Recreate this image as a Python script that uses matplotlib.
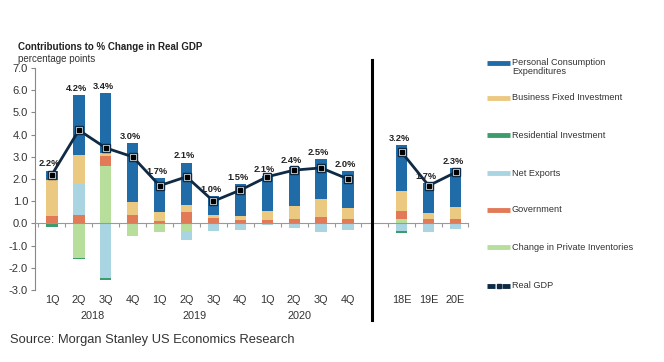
import matplotlib
matplotlib.use("Agg")
import matplotlib.pyplot as plt
import matplotlib.transforms as mtransforms
from matplotlib.lines import Line2D
import numpy as np

plt.rcParams['font.family'] = ['Liberation Sans', 'DejaVu Sans']

categories = ["1Q", "2Q", "3Q", "4Q", "1Q", "2Q", "3Q", "4Q", "1Q", "2Q", "3Q", "4Q",
              "18E", "19E", "20E"]
positions = [0, 1, 2, 3, 4, 5, 6, 7, 8, 9, 10, 11, 13, 14, 15]
years = ["2018", "2019", "2020"]
year_pos = [1.5, 5.3, 9.2]

# contributions (percentage points), stacking order bottom -> top
inventories = [0.0, -1.54, 2.6, -0.55, -0.38, -0.35, 0.0, 0.0, 0.0, 0.0, 0.0, 0.0, 0.2, 0.0, 0.0]
government = [0.33, 0.39, 0.45, 0.4, 0.1, 0.5, 0.25, 0.17, 0.17, 0.21, 0.29, 0.2, 0.37, 0.21, 0.21]
net_exports = [0.0, 1.4, -2.45, 0.0, 0.0, -0.38, -0.33, -0.3, -0.05, -0.22, -0.4, -0.3, -0.36, -0.38, -0.25]
residential = [-0.18, -0.06, -0.08, 0.0, 0.0, 0.0, 0.0, 0.0, 0.0, 0.0, 0.0, 0.0, -0.09, 0.0, 0.0]
business_fixed = [1.62, 1.3, 0.1, 0.55, 0.4, 0.35, 0.12, 0.18, 0.41, 0.59, 0.79, 0.5, 0.91, 0.26, 0.52]
pce = [0.43, 2.68, 2.73, 2.67, 1.56, 1.89, 0.85, 1.44, 1.56, 1.75, 1.82, 1.66, 2.06, 1.36, 1.75]
real_gdp = [2.2, 4.2, 3.4, 3.0, 1.7, 2.1, 1.0, 1.5, 2.1, 2.4, 2.5, 2.0, 3.2, 1.7, 2.3]

series = [
    ("Change in Private Inventories", inventories, "#b8de9c"),
    ("Government", government, "#e27a58"),
    ("Net Exports", net_exports, "#a9d5e3"),
    ("Residential Investment", residential, "#3d9c6b"),
    ("Business Fixed Investment", business_fixed, "#ecc981"),
    ("Personal Consumption\nExpenditures", pce, "#1f6ca8"),
]
navy = "#0f2a45"
text_col = "#333333"

W, H = 664, 362
fig = plt.figure(figsize=(W / 100, H / 100), dpi=100)
ax_left, ax_right, ax_top, ax_bot = 35, 468, 68, 290
ax = fig.add_axes([ax_left / W, 1 - ax_bot / H, (ax_right - ax_left) / W, (ax_bot - ax_top) / H])

x = np.array(positions, dtype=float)
pos_base = np.zeros(len(x))
neg_base = np.zeros(len(x))
bw = 0.42
for name, vals, col in series:
    v = np.array(vals)
    pos = np.where(v > 0, v, 0)
    neg = np.where(v < 0, v, 0)
    ax.bar(x, pos, bw, bottom=pos_base, color=col, linewidth=0, zorder=2)
    ax.bar(x, neg, bw, bottom=neg_base, color=col, linewidth=0, zorder=2)
    pos_base += pos
    neg_base += neg

# Real GDP line in two segments
gdp = np.array(real_gdp)
for sl in (slice(0, 12), slice(12, 15)):
    ax.plot(x[sl], gdp[sl], color=navy, lw=2.0, zorder=4, solid_capstyle='round')
    ax.plot(x[sl], gdp[sl], linestyle='none', marker='s', markersize=6.2,
            markerfacecolor='white', markeredgecolor=navy, markeredgewidth=1.0, zorder=5)
    ax.plot(x[sl], gdp[sl], linestyle='none', marker='s', markersize=2.6,
            color='black', zorder=6)

# value labels above bars
for xi, top, g in zip(x, pos_base, gdp):
    ax.annotate(f"{g:.1f}%", (xi - 0.1, top), xytext=(0, 1.5), textcoords='offset points',
                ha='center', va='bottom', fontsize=6.7, fontweight='bold', color='#222222',
                zorder=7)

ax.set_xlim(-0.63, 15.46)
ax.set_ylim(-3, 7)
ax.set_yticks(np.arange(-3, 8, 1))
ax.set_yticklabels([f"{t:.1f}" for t in np.arange(-3, 8, 1)], fontsize=8, color=text_col)
ax.tick_params(axis='y', length=3, width=0.8, color='#888888', pad=2)

ax.spines['top'].set_visible(False)
ax.spines['right'].set_visible(False)
ax.spines['left'].set_color('#888888')
ax.spines['bottom'].set_position(('data', 0))
ax.spines['bottom'].set_color('#999999')
ax.spines['bottom'].set_zorder(3)
ax.set_xticks([p + 0.5 for p in range(-1, 12)] + [12.5, 13.5, 14.5, 15.46])
ax.set_xticklabels([])
ax.tick_params(axis='x', length=3, width=0.8, color='#999999', direction='out')

trans = mtransforms.blended_transform_factory(ax.transData, ax.transAxes)
for p, c in zip(positions, categories):
    ax.text(p, -0.045, c, transform=trans, ha='center', va='center', fontsize=7.8, color=text_col)
for p, yname in zip(year_pos, years):
    ax.text(p, -0.115, yname, transform=trans, ha='center', va='center', fontsize=7.8, color=text_col)

# separator line
ax.plot([11.9, 11.9], [-0.135, 1.036], transform=trans, color='black', lw=2.2, clip_on=False, zorder=8)

# titles
fig.text(18 / W, 1 - 47 / H, "Contributions to % Change in Real GDP", fontsize=7.0,
         fontweight='bold', color='#222222', ha='left', va='center')
fig.text(18 / W, 1 - 59 / H, "percentage points", fontsize=7, color=text_col, ha='left', va='center')
fig.text(10 / W, 1 - 340 / H, "Source: Morgan Stanley US Economics Research", fontsize=9.3,
         color=text_col, ha='left', va='center')

# manual legend
legend_items = [
    ("Personal Consumption\nExpenditures", "#1f6ca8", 63, 67),
    ("Business Fixed Investment", "#ecc981", 98, 98),
    ("Residential Investment", "#3d9c6b", 135, 135),
    ("Net Exports", "#a9d5e3", 173, 173),
    ("Government", "#e27a58", 210, 210),
    ("Change in Private Inventories", "#b8de9c", 247, 247),
]
for label, col, ypatch, ytext in legend_items:
    fig.add_artist(Line2D([487 / W, 510 / W], [1 - ypatch / H, 1 - ypatch / H],
                          color=col, lw=3.5, solid_capstyle='butt'))
    fig.text(512 / W, 1 - ytext / H, label, fontsize=6.6, color=text_col, ha='left',
             va='center', linespacing=1.0)
yl = 1 - 286 / H
fig.add_artist(Line2D([487 / W, 495 / W], [yl, yl], color=navy, lw=3.5, solid_capstyle='butt'))
fig.add_artist(Line2D([502 / W, 510 / W], [yl, yl], color=navy, lw=3.5, solid_capstyle='butt'))
fig.add_artist(Line2D([498.5 / W], [yl], marker='s', markersize=2.2, color=navy, linestyle='none'))
fig.text(512 / W, yl, "Real GDP", fontsize=6.6, color=text_col, ha='left', va='center')

fig.savefig("out.png", dpi=100)
